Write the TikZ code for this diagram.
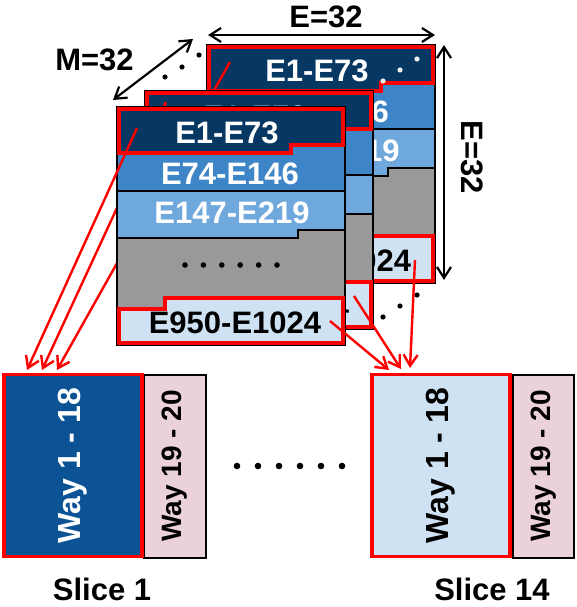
\documentclass[tikz,border=0pt]{standalone}
\usepackage{fontspec}
\setmainfont{Liberation Sans}
\usepackage{graphicx}
\usetikzlibrary{arrows.meta, calc}

\begin{document}
\begin{tikzpicture}[x=1pt, y=-1pt,
    every node/.style={font=\bfseries\fontsize{31}{36}\selectfont, inner sep=0pt},
    bandline/.style={black, line width=1.5pt},
    hiline/.style={red, line width=3.5pt, line join=miter},
    redlink/.style={red, line width=2.4pt, -{Straight Barb[length=11pt, width=14pt]}},
    dimline/.style={black, line width=2.2pt, {Straight Barb[length=11pt, width=14pt]}-{Straight Barb[length=11pt, width=14pt]}},
    waybox/.style={draw=red, line width=3.5pt, minimum width=138pt, minimum height=182pt, font=\bfseries\fontsize{32}{36}\selectfont},
    restbox/.style={draw=black, line width=2pt, fill=wayPink, minimum width=62pt, minimum height=183pt, font=\bfseries\fontsize{28}{32}\selectfont},
]

    \definecolor{bandDark}{HTML}{073763}
    \definecolor{bandMid}{HTML}{3D85C6}
    \definecolor{bandLight}{HTML}{6FA8DC}
    \definecolor{bandGray}{HTML}{999999}
    \definecolor{bandPale}{HTML}{CFE2F3}
    \definecolor{wayDark}{HTML}{0B5394}
    \definecolor{wayPink}{HTML}{EAD1DC}

    % Fix the picture size
    \useasboundingbox (0,0) rectangle (576,607);

    % Draw the slices
    \node[restbox] (s1rest) at (175,466) {\rotatebox{90}{Way 19 - 20}};
    \node[waybox, fill=wayDark, text=white] (s1way) at (73,465.5) {\rotatebox{90}{Way 1 - 18}};
    \node[restbox, minimum width=61pt] (s14rest) at (543.5,466) {\rotatebox{90}{Way 19 - 20}};
    \node[waybox, fill=bandPale] (s14way) at (441,465.5) {\rotatebox{90}{Way 1 - 18}};
    \node (s1lab) at (102,589) {Slice 1};
    \node (s14lab) at (492,589) {Slice 14};
    \foreach \i in {0,...,5}
        \fill (237+\i*21,466) circle (3.3pt);

    % Arrow ends on the slices
    \coordinate (s1in-front) at (27,370);
    \coordinate (s1in-mid) at (42,370);
    \coordinate (s1in-back) at (57,370);
    \coordinate (s14in-front) at (389,370);
    \coordinate (s14in-mid) at (401,369);
    \coordinate (s14in-back) at (410,368);

    % Dots between the layers
    \foreach \dx/\dy in {165/77, 182/67, 199/55, 383/317, 400/306, 417/295}
        \fill (\dx,\dy) circle (2.6pt);

    % Draw the layers, back to front
    \foreach \lx/\ly/\nm/\ax/\ay/\bx/\by in {207/45/back/23/17/208/215, 145/91/mid/21/11/209/205, 117/107/front/20/21/213/214} {
        \begin{scope}[shift={(\lx,\ly)}]
            % bands
            \fill[bandDark] (0,0) -- (228,0) -- (228,40) -- (176,40) -- (176,48) -- (0,48) -- cycle;
            \fill[bandMid] (0,48) -- (176,48) -- (176,40) -- (228,40) -- (228,84) -- (0,84) -- cycle;
            \fill[bandLight] (0,84) -- (228,84) -- (228,123) -- (181,123) -- (181,131) -- (0,131) -- cycle;
            \fill[bandGray] (0,131) -- (181,131) -- (181,123) -- (228,123) -- (228,189) -- (46,189) -- (46,200) -- (0,200) -- cycle;
            \fill[bandPale] (0,200) -- (46,200) -- (46,189) -- (228,189) -- (228,238) -- (0,238) -- cycle;
            \draw[bandline] (0,84) -- (228,84);
            \draw[bandline] (0,131) -- (181,131) -- (181,123) -- (228,123);
            \draw[bandline] (0,0) rectangle (228,238);
            % highlighted bands
            \draw[hiline] (2,2) -- (226,2) -- (226,38) -- (174,38) -- (174,46) -- (2,46) -- cycle;
            \draw[hiline] (2,202) -- (48,202) -- (48,191) -- (226,191) -- (226,236) -- (2,236) -- cycle;
            % band texts
            \node[text=white] (\nm-e1) at (110,26) {E1-E73};
            \node[text=white] (\nm-e74) at (113,67) {E74-E146};
            \node[text=white] (\nm-e147) at (115,106) {E147-E219};
            \node (\nm-e950) at (118,216) {E950-E1024};
            \foreach \i in {0,...,5}
                \fill (68+\i*18.4,158) circle (2.8pt);
            % link start points
            \coordinate (\nm-top) at (\ax,\ay);
            \coordinate (\nm-bot) at (\bx,\by);
        \end{scope}
        \draw[redlink] (\nm-top) -- (s1in-\nm);
        \draw[redlink] (\nm-bot) -- (s14in-\nm);
    }

    % White dots on the back layer
    \foreach \dx/\dy in {383/81, 400/70, 417/59}
        \fill[white!88!gray] (\dx,\dy) circle (2.6pt);

    % Dimension arrows
    \coordinate (dimE-l) at (208,35);
    \coordinate (dimE-r) at (435,35);
    \coordinate (dimV-t) at (444,45);
    \coordinate (dimV-b) at (444,280);
    \coordinate (dimM-a) at (113,100);
    \coordinate (dimM-b) at (193,39);
    \draw[dimline] (dimE-l) -- (dimE-r);
    \draw[dimline] (dimV-t) -- (dimV-b);
    \draw[dimline] (dimM-a) -- (dimM-b);
    \node (lblEw) at (326,17) {E=32};
    \node[rotate=-90] (lblEh) at (472,157) {E=32};
    \node (lblM) at (94.5,59.5) {M=32};

\end{tikzpicture}
\end{document}
